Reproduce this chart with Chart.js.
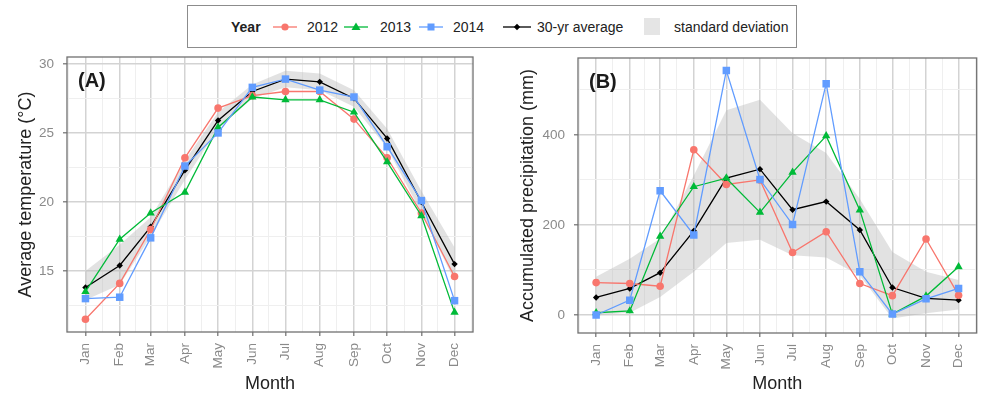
<!DOCTYPE html>
<html>
<head>
<meta charset="utf-8">
<script src="https://cdn.jsdelivr.net/npm/chart.js@4.4.0/dist/chart.umd.min.js"></script>
<style>
  body { margin: 0; background: #fff; width: 982px; height: 399px; position: relative; overflow: hidden;
         font-family: 'Liberation Sans', Arial, sans-serif; }
  #cA { position: absolute; left: 0; top: 0; }
  #cB { position: absolute; left: 490px; top: 0; }
  #legend { position: absolute; left: 187px; top: 5px; width: 610px; height: 43px; box-sizing: border-box;
            border: 1px solid #8c8c8c; background: #fff; }
  .item { position: absolute; top: 0; height: 100%; display: flex; align-items: center; font-size: 14px; color: #222; white-space: nowrap; }
</style>
</head>
<body>
<canvas id="cA" width="490" height="399"></canvas>
<canvas id="cB" width="492" height="399"></canvas>
<div id="legend">
  <div class="item" style="left:43px;font-weight:bold">Year</div>
  <div class="item" style="left:85px"><svg width="24" height="14"><line x1="0" y1="7" x2="24" y2="7" stroke="#F8766D" stroke-width="1.3"/><circle cx="12" cy="7" r="3.6" fill="#F8766D"/></svg></div>
  <div class="item" style="left:119px">2012</div>
  <div class="item" style="left:156px"><svg width="24" height="14"><line x1="0" y1="7" x2="24" y2="7" stroke="#00BA38" stroke-width="1.3"/><polygon points="12,2.5 16.5,10 7.5,10" fill="#00BA38"/></svg></div>
  <div class="item" style="left:192px">2013</div>
  <div class="item" style="left:231px"><svg width="24" height="14"><line x1="0" y1="7" x2="24" y2="7" stroke="#619CFF" stroke-width="1.3"/><rect x="8.5" y="3.5" width="7" height="7" fill="#619CFF"/></svg></div>
  <div class="item" style="left:265px">2014</div>
  <div class="item" style="left:315px"><svg width="28" height="14"><line x1="0" y1="7" x2="28" y2="7" stroke="#000" stroke-width="1.3"/><polygon points="14,3.8 17.2,7 14,10.2 10.8,7" fill="#000"/></svg></div>
  <div class="item" style="left:349px">30-yr average</div>
  <div class="item" style="left:456px"><div style="width:16px;height:17px;background:#e5e5e5"></div></div>
  <div class="item" style="left:486px">standard deviation</div>
</div>
<script>
// months and their start day (day of year, Jan 1 = 0)
const months = ['Jan', 'Feb', 'Mar', 'Apr', 'May', 'Jun', 'Jul', 'Aug', 'Sep', 'Oct', 'Nov', 'Dec'];
const monthStart = [0, 31, 59, 90, 120, 151, 181, 212, 243, 273, 304, 334];

// (A) average temperature, deg C
const temp2012 = [11.5, 14.1, 18.0, 23.2, 26.8, 27.7, 28.0, 28.0, 26.0, 23.2, 19.2, 14.6];
const temp2013 = [13.5, 17.3, 19.2, 20.7, 25.4, 27.6, 27.4, 27.4, 26.5, 22.9, 19.0, 12.0];
const temp2014 = [13.0, 13.1, 17.4, 22.6, 25.0, 28.3, 28.9, 28.1, 27.6, 24.0, 20.1, 12.85];
const tempAvg  = [13.8, 15.4, 18.2, 22.3, 25.9, 28.0, 28.9, 28.7, 27.5, 24.6, 20.0, 15.5];
const tempSdLow  = [12.9, 14.0, 17.5, 21.6, 25.3, 27.5, 28.3, 28.1, 26.9, 23.9, 19.2, 14.3];
const tempSdHigh = [15.0, 16.9, 18.9, 23.0, 26.5, 28.5, 29.5, 29.3, 28.1, 25.3, 20.8, 16.7];

// (B) accumulated precipitation, mm
const prec2012 = [72, 70, 64, 367, 290, 300, 139, 185, 70, 43, 169, 44];
const prec2013 = [5, 9, 175, 285, 304, 228, 317, 398, 233, 2, 42, 107];
const prec2014 = [0, 33, 276, 178, 543, 301, 201, 514, 96, 2, 36, 59];
const precAvg  = [39, 59, 94, 187, 304, 324, 234, 252, 189, 61, 37, 33];
const precSdLow  = [0, 5, 40, 96, 160, 167, 133, 128, 88, -8, 4, 12];
const precSdHigh = [85, 125, 170, 310, 455, 478, 404, 360, 258, 140, 96, 78];

// tick labels
const tempTicks = [15, 20, 25, 30];
const precTicks = [0, 200, 400];

const C2012 = '#F8766D', C2013 = '#00BA38', C2014 = '#619CFF';
const FONT = "'Liberation Sans', Arial, sans-serif";
Chart.defaults.font.family = FONT;

const xMinor = [-15.5].concat(monthStart.map((d, i) => i < 11 ? (d + monthStart[i + 1]) / 2 : 349.5));

const pts = arr => arr.map((v, i) => ({ x: monthStart[i], y: v }));

function series(label, values, color, style, radius, order) {
  return {
    label, data: pts(values), borderColor: color, backgroundColor: color,
    pointBackgroundColor: color, pointBorderColor: color, pointBorderWidth: 0,
    pointStyle: style, pointRadius: radius, borderWidth: 1.3, tension: 0, fill: false, order
  };
}

const panelFrame = {
  id: 'panelFrame',
  afterDraw(chart, args, opts) {
    const { ctx, chartArea: a } = chart;
    ctx.save();
    ctx.strokeStyle = '#707070';
    ctx.lineWidth = 1.3;
    ctx.strokeRect(a.left, a.top, a.right - a.left, a.bottom - a.top);
    ctx.font = 'bold 20px ' + FONT;
    ctx.fillStyle = '#1a1a1a';
    ctx.textBaseline = 'middle';
    ctx.fillText(opts.label, a.left + 11, a.top + 24);
    ctx.restore();
  }
};

function makePanel(canvasId, cfg) {
  const yAll = cfg.yMinor.concat(cfg.yMajor).sort((a, b) => a - b);
  const xAll = xMinor.concat(monthStart).sort((a, b) => a - b);
  const isMajorX = v => monthStart.indexOf(v) >= 0;
  const isMajorY = v => cfg.yMajor.indexOf(v) >= 0;
  return new Chart(document.getElementById(canvasId), {
    type: 'line',
    data: {
      datasets: [
        { data: pts(cfg.low), borderWidth: 0, pointRadius: 0, fill: false, order: 10 },
        { data: pts(cfg.high), borderWidth: 0, pointRadius: 0, fill: '-1',
          backgroundColor: 'rgba(180,180,180,0.38)', order: 9 },
        series('30-yr average', cfg.avg, '#000000', 'rectRot', 3.2, 4),
        series('2012', cfg.s2012, C2012, 'circle', 3.8, 3),
        series('2013', cfg.s2013, C2013, 'triangle', 4.8, 2),
        series('2014', cfg.s2014, C2014, 'rect', 5.3, 1)
      ]
    },
    options: {
      responsive: false,
      animation: false,
      devicePixelRatio: 1,
      events: [],
      layout: { padding: { left: 0, top: cfg.top, right: cfg.right, bottom: 0 } },
      plugins: {
        legend: { display: false },
        tooltip: { enabled: false },
        panelFrame: { label: cfg.label }
      },
      scales: {
        x: {
          type: 'linear', min: -16.7, max: 350.7,
          afterBuildTicks: s => { s.ticks = xAll.map(v => ({ value: v })); },
          afterFit: s => { s.height = cfg.xHeight; s.paddingLeft = 0; s.paddingRight = 0; },
          ticks: {
            autoSkip: false, minRotation: 90, maxRotation: 90, padding: 7,
            color: '#8a8a8a', font: { size: 13.5 },
            callback: v => isMajorX(v) ? months[monthStart.indexOf(v)] : ''
          },
          grid: {
            color: c => c.tick && isMajorX(c.tick.value) ? '#d3d3d3' : '#efefef',
            lineWidth: c => c.tick && isMajorX(c.tick.value) ? 1.5 : 1,
            tickLength: 4,
            tickColor: c => c.tick && isMajorX(c.tick.value) ? '#8a8a8a' : 'rgba(0,0,0,0)'
          },
          border: { display: false },
          title: { display: true, text: 'Month', color: '#222', font: { size: 18 }, padding: { top: 0, bottom: 4 } }
        },
        y: {
          type: 'linear', min: cfg.yMin, max: cfg.yMax,
          afterBuildTicks: s => { s.ticks = yAll.map(v => ({ value: v })); },
          afterFit: s => { s.width = cfg.yWidth; s.paddingTop = 0; s.paddingBottom = 0; },
          ticks: {
            autoSkip: false, padding: 9, color: '#8a8a8a', font: { size: 13.5 },
            callback: v => isMajorY(v) ? String(v) : ''
          },
          grid: {
            color: c => c.tick && isMajorY(c.tick.value) ? '#d3d3d3' : '#efefef',
            lineWidth: c => c.tick && isMajorY(c.tick.value) ? 1.5 : 1,
            tickLength: 4,
            tickColor: c => c.tick && isMajorY(c.tick.value) ? '#8a8a8a' : 'rgba(0,0,0,0)'
          },
          border: { display: false },
          title: { display: true, text: cfg.yTitle, color: '#222', font: { size: 18 }, padding: { top: cfg.yTitlePad, bottom: 0 } }
        }
      }
    },
    plugins: [panelFrame]
  });
}

makePanel('cA', {
  label: '(A)', yTitle: 'Average temperature (°C)',
  s2012: temp2012, s2013: temp2013, s2014: temp2014, avg: tempAvg, low: tempSdLow, high: tempSdHigh,
  yMin: 10.58, yMax: 30.5, yMajor: tempTicks, yMinor: [12.5, 17.5, 22.5, 27.5],
  top: 57, right: 17, xHeight: 67, yWidth: 67, yTitlePad: 15
});

makePanel('cB', {
  label: '(B)', yTitle: 'Accumulated precipitation (mm)',
  s2012: prec2012, s2013: prec2013, s2014: prec2014, avg: precAvg, low: precSdLow, high: precSdHigh,
  yMin: -40, yMax: 571, yMajor: precTicks, yMinor: [100, 300, 500],
  top: 58, right: 5, xHeight: 66, yWidth: 88, yTitlePad: 27
});
</script>
</body>
</html>
